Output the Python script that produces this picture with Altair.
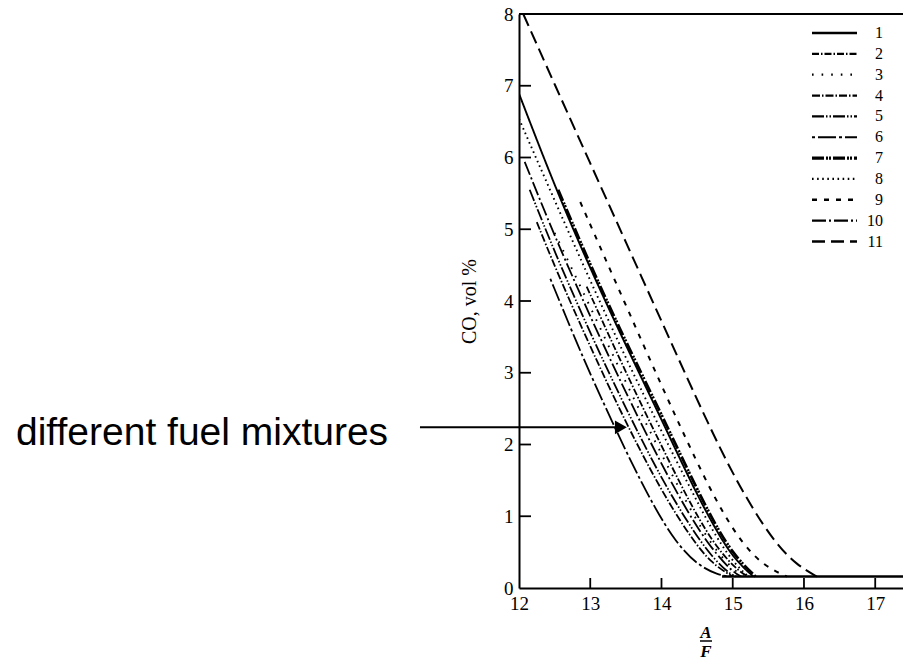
import altair as alt
import pandas as pd

# ---------------- data ----------------
x_ticks = [12, 13, 14, 15, 16, 17]
y_ticks = [0, 1, 2, 3, 4, 5, 6, 7, 8]
series_names = ["1", "2", "3", "4", "5", "6", "7", "8", "9", "10", "11"]

s1_x = [12.0, 12.5, 13.0, 13.5, 14.0, 14.4, 14.7, 15.0, 15.29]
s1_y = [6.89, 5.6, 4.45, 3.38, 2.35, 1.5, 0.92, 0.42, 0.16]
s2_x = [12.95, 13.5, 14.0, 14.45, 14.8, 15.1, 15.22]
s2_y = [4.2, 3.0, 1.98, 1.08, 0.52, 0.22, 0.16]
s3_x = [12.5, 13.0, 13.5, 14.0, 14.4, 14.7, 15.0, 15.15]
s3_y = [4.95, 3.92, 2.86, 1.86, 1.1, 0.6, 0.26, 0.16]
s4_x = [12.25, 12.5, 13.0, 13.5, 14.0, 14.4, 14.7, 15.0]
s4_y = [5.1, 4.48, 3.36, 2.3, 1.35, 0.72, 0.34, 0.16]
s5_x = [12.15, 12.5, 13.0, 13.5, 14.0, 14.4, 14.7, 14.95, 15.05]
s5_y = [5.55, 4.68, 3.55, 2.5, 1.52, 0.86, 0.44, 0.2, 0.16]
s6_x = [12.44, 12.75, 13.0, 13.5, 13.9, 14.2, 14.5, 14.8, 14.95]
s6_y = [4.31, 3.56, 2.98, 1.9, 1.12, 0.64, 0.32, 0.18, 0.16]
s7_x = [12.55, 13.0, 13.5, 14.0, 14.4, 14.7, 15.0, 15.32]
s7_y = [5.55, 4.5, 3.43, 2.42, 1.58, 0.98, 0.47, 0.16]
s8_x = [12.0, 12.5, 13.0, 13.5, 14.0, 14.4, 14.7, 15.0, 15.22]
s8_y = [6.54, 5.4, 4.28, 3.2, 2.18, 1.4, 0.82, 0.36, 0.16]
s9_x = [12.86, 13.5, 14.0, 14.5, 14.85, 15.15, 15.45, 15.76]
s9_y = [5.38, 3.94, 2.82, 1.74, 1.06, 0.6, 0.3, 0.16]
s10_x = [12.08, 12.5, 13.0, 13.5, 14.0, 14.4, 14.7, 15.0, 15.12]
s10_y = [5.94, 4.9, 3.78, 2.72, 1.72, 1.0, 0.55, 0.22, 0.16]
s11_x = [12.06, 12.5, 13.0, 13.5, 14.0, 14.5, 14.9, 15.25, 15.6, 15.9, 16.18]
s11_y = [8.0, 7.02, 5.92, 4.82, 3.72, 2.62, 1.78, 1.15, 0.62, 0.32, 0.16]

baseline_x = [14.85, 17.39]
baseline_y = [0.16, 0.16]

arrow_x = [10.61, 13.42]
arrow_y = [2.24, 2.24]
arrow_head_x = [13.43]
arrow_head_y = [2.24]

annotation_text = "different fuel mixtures"
y_title = "CO, vol %"

# ---------------- styles ----------------
W, H = 384, 574
SERIF = "Liberation Serif"
styles = {
    "1": ([1, 0], 1.9),
    "2": ([7, 2, 1.5, 2], 1.8),
    "3": ([1.6, 8], 1.9),
    "4": ([8, 2, 1.5, 2], 1.8),
    "5": ([12, 2, 1.5, 2, 1.5, 2], 1.8),
    "6": ([3, 3, 18, 3], 1.8),
    "7": ([12, 2, 2, 1, 2, 2], 2.8),
    "8": ([1.6, 3.5], 1.9),
    "9": ([5, 7], 2.0),
    "10": ([14, 3, 2, 3], 1.8),
    "11": ([13, 6], 2.0),
}
series_x = [s1_x, s2_x, s3_x, s4_x, s5_x, s6_x, s7_x, s8_x, s9_x, s10_x, s11_x]
series_y = [s1_y, s2_y, s3_y, s4_y, s5_y, s6_y, s7_y, s8_y, s9_y, s10_y, s11_y]

xscale = alt.Scale(domain=[12, 17.39], nice=False, zero=False)
yscale = alt.Scale(domain=[0, 8], nice=False, zero=False)

x_axis = alt.Axis(values=x_ticks, tickSize=0, labelPadding=6, labelFont=SERIF,
                  labelFontSize=19, labelColor="black", domainColor="black",
                  domainWidth=2, grid=False, title=None, format="d", labelFlush=False)
y_axis = alt.Axis(values=y_ticks, tickSize=0, labelPadding=6, labelFont=SERIF,
                  labelFontSize=19, labelColor="black", domainColor="black",
                  domainWidth=2, grid=False, format="d", title=y_title,
                  titleFont=SERIF, titleFontSize=20, titleFontWeight="normal",
                  titleColor="black", titleX=-44, titleY=H / 2,
                  titleBaseline="alphabetic")


def X(f="x"):
    return alt.X(f"{f}:Q", scale=xscale, axis=x_axis)


def Y(f="y"):
    return alt.Y(f"{f}:Q", scale=yscale, axis=y_axis)


layers = []
for name, xs, ys in zip(series_names, series_x, series_y):
    dash, width = styles[name]
    df = pd.DataFrame({"x": xs, "y": ys})
    layers.append(
        alt.Chart(df).mark_line(color="black", strokeDash=dash, strokeWidth=width,
                                interpolate="basis", clip=True)
        .encode(x=X(), y=Y())
    )

layers.append(
    alt.Chart(pd.DataFrame({"x": baseline_x, "y": baseline_y}))
    .mark_line(color="black", strokeWidth=2.6).encode(x=X(), y=Y())
)

# inward ticks
layers.append(
    alt.Chart(pd.DataFrame({"x": x_ticks[1:]})).mark_rule(color="black", strokeWidth=1.8)
    .encode(x=X(), y=alt.value(H), y2=alt.value(H - 10))
)
layers.append(
    alt.Chart(pd.DataFrame({"y": y_ticks[1:-1]})).mark_rule(color="black", strokeWidth=1.8)
    .encode(y=Y(), x=alt.value(0), x2=alt.value(12))
)
# top frame
one = pd.DataFrame({"a": [0]})
layers.append(
    alt.Chart(one).mark_rule(color="black", strokeWidth=2)
    .encode(x=alt.value(0), x2=alt.value(W), y=alt.value(0))
)

# arrow annotation
layers.append(
    alt.Chart(pd.DataFrame({"x": arrow_x, "y": arrow_y}))
    .mark_line(color="black", strokeWidth=2).encode(x=X(), y=Y())
)
layers.append(
    alt.Chart(pd.DataFrame({"x": arrow_head_x, "y": arrow_head_y}))
    .mark_point(shape="triangle-right", filled=True, color="black", size=190, opacity=1)
    .encode(x=X(), y=Y())
)
layers.append(
    alt.Chart(one).mark_text(text=annotation_text, align="left", baseline="alphabetic",
                             font="Liberation Sans", fontSize=39, color="black")
    .encode(x=alt.value(16 - 519), y=alt.value(445 - 14))
)

# x title as fraction A / F
layers.append(
    alt.Chart(one).mark_text(text="A", align="center", baseline="alphabetic", font=SERIF,
                             fontSize=17, fontStyle="italic", fontWeight="bold", color="black")
    .encode(x=alt.value(187), y=alt.value(638 - 14))
)
layers.append(
    alt.Chart(one).mark_rule(color="black", strokeWidth=1.5)
    .encode(x=alt.value(181), x2=alt.value(193), y=alt.value(641 - 14))
)
layers.append(
    alt.Chart(one).mark_text(text="F", align="center", baseline="alphabetic", font=SERIF,
                             fontSize=17, fontStyle="italic", fontWeight="bold", color="black")
    .encode(x=alt.value(187), y=alt.value(657 - 14))
)

# manual legend
for i, name in enumerate(series_names):
    dash, width = styles[name]
    yrow = 19 + 20.85 * i
    layers.append(
        alt.Chart(one).mark_rule(color="black", strokeDash=dash, strokeWidth=width + 0.4)
        .encode(x=alt.value(293), x2=alt.value(338), y=alt.value(yrow))
    )
    layers.append(
        alt.Chart(one).mark_text(text=name, align="right", baseline="middle", font=SERIF,
                                 fontSize=16, color="black")
        .encode(x=alt.value(364), y=alt.value(yrow))
    )

chart = (
    alt.layer(*layers)
    .properties(width=W, height=H, autosize=alt.AutoSizeParams(type="none"),
                padding={"left": 519, "top": 14, "right": 0, "bottom": 72},
                background="white")
    .configure_view(stroke=None)
)

chart.save("out.html", embed_options={"renderer": "svg", "actions": False})
